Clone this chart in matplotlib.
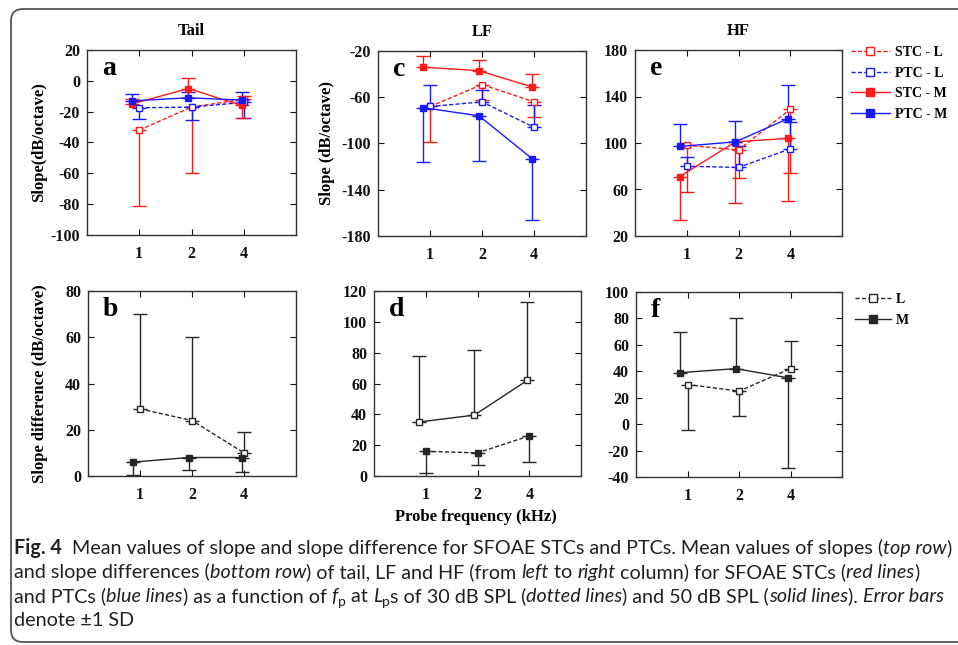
import matplotlib
matplotlib.use('Agg')
import matplotlib.pyplot as plt
from matplotlib.lines import Line2D
from matplotlib.patches import FancyBboxPatch
from matplotlib.transforms import IdentityTransform
import numpy as np

W, H = 958, 645

freq_labels = ['1', '2', '4']
top_labels = ['STC - L', 'PTC - L', 'STC - M', 'PTC - M']
diff_labels = ['L', 'M']

# top row: mean slope, [lower err, upper err]
tail_stc_l = [-32, -17, -12]
tail_stc_l_err = [[49, 43, 0], [0, 0, 2]]
tail_ptc_l = [-17.5, -17, -14]
tail_ptc_l_err = [[7, 8.5, 10], [0, 0, 0]]
tail_stc_m = [-15, -5, -16]
tail_stc_m_err = [[0, 0, 8], [3, 7, 0]]
tail_ptc_m = [-13, -11, -12.5]
tail_ptc_m_err = [[0, 0, 0], [4.5, 4, 5]]

lf_stc_l = [-68, -49, -64]
lf_stc_l_err = [[31, 13, 13], [0, 0, 0]]
lf_ptc_l = [-68, -64, -86]
lf_ptc_l_err = [[0, 0, 0], [19, 10, 19]]
lf_stc_m = [-34, -37, -51]
lf_stc_m_err = [[0, 0, 0], [10, 9, 11]]
lf_ptc_m = [-69, -76, -113]
lf_ptc_m_err = [[47, 39, 53], [0, 0, 0]]

hf_stc_l = [98, 94, 129]
hf_stc_l_err = [[40, 24, 55], [0, 0, 0]]
hf_ptc_l = [80, 79, 95]
hf_ptc_l_err = [[0, 0, 0], [8, 18, 23]]
hf_stc_m = [71, 101, 104]
hf_stc_m_err = [[37, 53, 54], [0, 0, 0]]
hf_ptc_m = [97, 101, 121]
hf_ptc_m_err = [[0, 0, 0], [19, 18, 29]]

# bottom row: slope difference
tail_diff_l = [29, 24, 10]
tail_diff_l_err = [[0, 0, 0], [41, 36, 9]]
tail_diff_m = [6, 8, 8]
tail_diff_m_err = [[5.4, 5.3, 6.2], [0, 0, 0]]

lf_diff_l = [35, 39.5, 62]
lf_diff_l_err = [[0, 0, 0], [43, 42, 51]]
lf_diff_m = [16, 15, 26]
lf_diff_m_err = [[14, 8, 17], [0, 0, 0]]

hf_diff_l = [30, 25, 42]
hf_diff_l_err = [[34.6, 18.7, 0], [0, 0, 21]]
hf_diff_m = [39, 42, 35]
hf_diff_m_err = [[0, 0, 68], [31, 38, 0]]

RED = '#ff1a1a'
BLUE = '#1a1aff'
BLACK = '#262626'
DASH = (0, (3, 1.6))
SHIFT = np.array([-0.14, -0.06, -0.04])   # solid-line series sit a bit left

plt.rcParams['font.family'] = 'Liberation Serif'
plt.rcParams['font.weight'] = 'bold'
plt.rcParams['axes.unicode_minus'] = False

fig = plt.figure(figsize=(W / 100, H / 100), dpi=100)
xpos = np.arange(1, len(freq_labels) + 1)


def px_axes(l, t, r, b):
    return fig.add_axes([l / W, 1 - b / H, (r - l) / W, (b - t) / H])


def style_axes(ax, yticks, letter):
    ax.set_xlim(0, 4)
    ax.set_xticks(xpos, freq_labels)
    ax.set_ylim(yticks[0], yticks[-1])
    ax.set_yticks(yticks)
    ax.tick_params(direction='in', top=True, right=True, length=4, width=0.8,
                   labelsize=11.5, pad=5, colors='#111111')
    ax.tick_params(axis='x', pad=8)
    for s in ax.spines.values():
        s.set_linewidth(1.0)
        s.set_color('#333333')
    ax.text(0.072, 0.865, letter, transform=ax.transAxes, fontsize=20,
            fontweight='bold', va='baseline', ha='left')


def series(ax, mean, err, color, filled, ls, shift=False):
    xs = xpos + SHIFT if shift else xpos
    ax.errorbar(xs, mean, yerr=err, color=color, ls=ls, lw=1.0, marker='s', ms=5,
                mfc=color if filled else 'white', mec=color, mew=1.0,
                capsize=5, elinewidth=1.0, capthick=1.0)


# top row
ax_a = px_axes(87, 50, 296, 235)
series(ax_a, tail_stc_l, tail_stc_l_err, RED, False, DASH)
series(ax_a, tail_ptc_l, tail_ptc_l_err, BLUE, False, DASH)
series(ax_a, tail_stc_m, tail_stc_m_err, RED, True, '-', True)
series(ax_a, tail_ptc_m, tail_ptc_m_err, BLUE, True, '-', True)
style_axes(ax_a, np.arange(-100, 21, 20), 'a')
ax_a.set_title('Tail', fontsize=12, fontweight='bold', pad=11)
ax_a.set_ylabel('Slope(dB/octave)', fontsize=12, fontweight='bold')
ax_a.yaxis.set_label_coords(-0.19, 0.5)

ax_c = px_axes(378, 51, 586, 236)
series(ax_c, lf_stc_l, lf_stc_l_err, RED, False, DASH)
series(ax_c, lf_ptc_l, lf_ptc_l_err, BLUE, False, DASH)
series(ax_c, lf_stc_m, lf_stc_m_err, RED, True, '-', True)
series(ax_c, lf_ptc_m, lf_ptc_m_err, BLUE, True, '-', True)
style_axes(ax_c, np.arange(-180, -19, 40), 'c')
ax_c.set_title('LF', fontsize=12, fontweight='bold', pad=11)
ax_c.set_ylabel('Slope (dB/octave)', fontsize=12, fontweight='bold')
ax_c.yaxis.set_label_coords(-0.207, 0.5)

ax_e = px_axes(635, 50, 842, 236)
series(ax_e, hf_stc_l, hf_stc_l_err, RED, False, DASH)
series(ax_e, hf_ptc_l, hf_ptc_l_err, BLUE, False, DASH)
series(ax_e, hf_stc_m, hf_stc_m_err, RED, True, '-', True)
series(ax_e, hf_ptc_m, hf_ptc_m_err, BLUE, True, '-', True)
style_axes(ax_e, np.arange(20, 181, 40), 'e')
ax_e.set_title('HF', fontsize=12, fontweight='bold', pad=11)

# bottom row
ax_b = px_axes(88, 291, 296, 476)
series(ax_b, tail_diff_l, tail_diff_l_err, BLACK, False, DASH)
series(ax_b, tail_diff_m, tail_diff_m_err, BLACK, True, '-', True)
style_axes(ax_b, np.arange(0, 81, 20), 'b')
ax_b.set_ylabel('Slope difference (dB/octave)', fontsize=12, fontweight='bold')
ax_b.yaxis.set_label_coords(-0.19, 0.5)

ax_d = px_axes(374, 291, 581, 476)
series(ax_d, lf_diff_l, lf_diff_l_err, BLACK, False, '-', True)
series(ax_d, lf_diff_m, lf_diff_m_err, BLACK, True, DASH)
style_axes(ax_d, np.arange(0, 121, 20), 'd')

ax_f = px_axes(636, 292, 842, 477)
series(ax_f, hf_diff_l, hf_diff_l_err, BLACK, False, DASH)
series(ax_f, hf_diff_m, hf_diff_m_err, BLACK, True, '-', True)
style_axes(ax_f, np.arange(-40, 101, 20), 'f')

# legends
top_handles = [
    Line2D([], [], color=RED, ls=DASH, lw=1, marker='s', ms=6, mfc='white', mec=RED),
    Line2D([], [], color=BLUE, ls=DASH, lw=1, marker='s', ms=6, mfc='white', mec=BLUE),
    Line2D([], [], color=RED, ls='-', lw=1, marker='s', ms=6, mfc=RED, mec=RED),
    Line2D([], [], color=BLUE, ls='-', lw=1, marker='s', ms=6, mfc=BLUE, mec=BLUE),
]
fig.legend(top_handles, top_labels, loc='upper left', bbox_to_anchor=(851 / W, 1 - 46 / H),
           frameon=False, prop={'size': 10, 'weight': 'bold'}, handlelength=2.8,
           handletextpad=0.35, labelspacing=0.55, borderpad=0, borderaxespad=0)
diff_handles = [
    Line2D([], [], color=BLACK, ls=DASH, lw=1, marker='s', ms=6, mfc='white', mec=BLACK),
    Line2D([], [], color=BLACK, ls='-', lw=1, marker='s', ms=6, mfc=BLACK, mec=BLACK),
]
fig.legend(diff_handles, diff_labels, loc='upper left', bbox_to_anchor=(855 / W, 1 - 293 / H),
           frameon=False, prop={'size': 10, 'weight': 'bold'}, handlelength=2.6,
           handletextpad=0.35, labelspacing=0.55, borderpad=0, borderaxespad=0)

fig.text(476 / W, 1 - 517 / H, 'Probe frequency (kHz)', ha='center', va='center',
         fontsize=12, fontweight='bold')

# frame around the figure
box = FancyBboxPatch((11, 3), 1000, 633, boxstyle='round,pad=0,rounding_size=12',
                     transform=IdentityTransform(), fill=False, ec='#555555', lw=1.3)
fig.add_artist(box)

# caption, drawn as runs of differently styled text
renderer = fig.canvas.get_renderer()
CAP_FONT = 'Lato'
CAP_COLOR = '#231f20'


def run_props(style, size):
    p = dict(family=CAP_FONT, fontsize=size, color=CAP_COLOR, weight='normal', style='normal')
    if style == 'b':
        p['weight'] = 'bold'
    elif style == 'i':
        p['style'] = 'italic'
    elif style == 's':
        p['fontsize'] = size * 0.7
    return p


def measure(text, props):
    t = fig.text(0, 0, '|' + text + '|', transform=IdentityTransform(), **props)
    w1 = t.get_window_extent(renderer).width
    t.set_text('||')
    w0 = t.get_window_extent(renderer).width
    t.remove()
    return w1 - w0


def draw_line(runs, x, y, size, draw=True):
    for text, style in runs:
        props = run_props(style, size)
        yy = y - 4 if style == 's' else y
        if draw:
            fig.text(x, yy, text, transform=IdentityTransform(), va='baseline', **props)
        x += measure(text, props)
    return x


caption = [
    [('Fig. 4', 'b'), ('  Mean values of slope and slope difference for SFOAE STCs and PTCs. '
                       'Mean values of slopes (', 'n'), ('top row', 'i'), (')', 'n')],
    [('and slope differences (', 'n'), ('bottom row', 'i'), (') of tail, LF and HF (from ', 'n'),
     ('left', 'i'), (' to ', 'n'), ('right', 'i'), (' column) for SFOAE STCs (', 'n'),
     ('red lines', 'i'), (')', 'n')],
    [('and PTCs (', 'n'), ('blue lines', 'i'), (') as a function of ', 'n'), ('f', 'i'), ('p', 's'),
     (' at ', 'n'), ('L', 'i'), ('p', 's'), ('s of 30 dB SPL (', 'n'), ('dotted lines', 'i'),
     (') and 50 dB SPL (', 'n'), ('solid lines', 'i'), ('). ', 'n'), ('Error bars', 'i')],
    [('denote \u00b11 SD', 'n')],
]

trial = 12.0
width = draw_line(caption[0], 0, 0, trial, draw=False)
cap_size = trial * (950 - 14) / width
for i, runs in enumerate(caption):
    draw_line(runs, 14, H - (554 + 24 * i), cap_size)

fig.savefig('out.png', dpi=100)
